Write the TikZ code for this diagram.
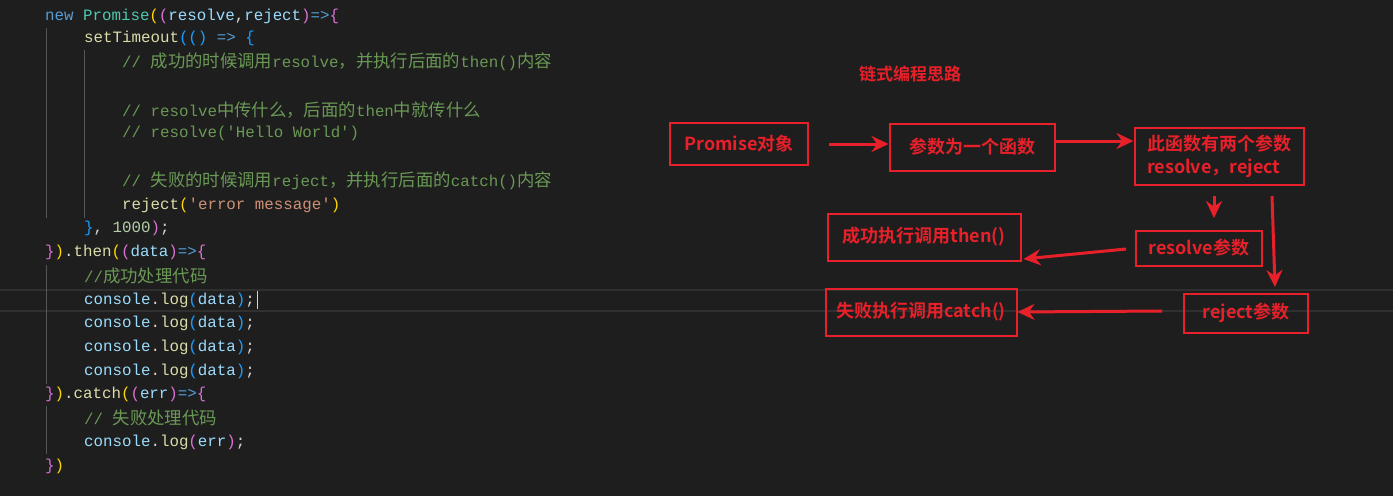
\documentclass[tikz,border=0pt]{standalone}
\usepackage{fontspec}
\setmonofont{Liberation Mono}
\newfontfamily\cjk[Scale=1.1]{Noto Sans CJK SC}
\newfontfamily\cjkb{Noto Sans CJK SC Bold}
\usetikzlibrary{arrows.meta}
\definecolor{bg}{HTML}{1E1E1E}
\definecolor{kw}{HTML}{569CD6}
\definecolor{cls}{HTML}{4EC9B0}
\definecolor{var}{HTML}{9CDCFE}
\definecolor{fn}{HTML}{DCDCAA}
\definecolor{cmt}{HTML}{6A9955}
\definecolor{str}{HTML}{CE9178}
\definecolor{num}{HTML}{B5CEA8}
\definecolor{txt}{HTML}{D4D4D4}
\definecolor{br1}{HTML}{FFD700}
\definecolor{br2}{HTML}{DA70D6}
\definecolor{br3}{HTML}{179FFF}
\definecolor{rd}{HTML}{E8202A}
\newcommand{\C}[1]{{\cjk #1}}
\begin{document}
\begin{tikzpicture}[x=1pt,y=-1pt,
  code/.style={anchor=west,inner sep=0pt,font=\ttfamily\fontsize{15.8}{16}\selectfont,text=txt},
  rbox/.style={draw=rd,line width=2pt,text=rd,font=\cjkb\fontsize{18}{23}\selectfont,align=left,inner sep=0pt},
  rarr/.style={draw=rd,line width=3pt,-{Stealth[length=17pt,width=16pt]}},
  guide/.style={draw=white!25!bg,line width=1pt}]
\fill[bg] (0,0) rectangle (1393,496);
\useasboundingbox (0,0) rectangle (1393,496);
\draw[draw=white!8!bg,line width=1.5pt] (0,290) -- (1393,290) (0,311) -- (1393,311);
\draw[guide] (46,28) -- (46,218) (46,265) -- (46,384) (46,406) -- (46,454) (84,50) -- (84,218);
% code
\node[code] (l1) at (45,16) {\color{kw}new~\color{cls}Promise\color{br1}(\color{br2}(\color{var}resolve\color{txt},\color{var}reject\color{br2})\color{kw}=>\color{br2}\{};
\node[code] (l2) at (84,38) {\color{fn}setTimeout\color{br3}(()~\color{kw}=>~\color{br3}\{};
\node[code] (l3) at (122,62) {\color{cmt}//~\C{成功的时候调用}resolve\C{，并执行后面的}then()\C{内容}};
\node[code] (l5) at (122,110) {\color{cmt}//~resolve\C{中传什么，后面的}then\C{中就传什么}};
\node[code] (l6) at (122,133) {\color{cmt}//~resolve('Hello~World')};
\node[code] (l8) at (122,181) {\color{cmt}//~\C{失败的时候调用}reject\C{，并执行后面的}catch()\C{内容}};
\node[code] (l9) at (122,205) {\color{fn}reject\color{br1}(\color{str}'error~message'\color{br1})};
\node[code] (l10) at (84,228) {\color{br3}\}\color{txt},~\color{num}1000\color{br2})\color{txt};};
\node[code] (l11) at (45,252) {\color{br2}\}\color{br1})\color{txt}.\color{fn}then\color{br1}(\color{br2}(\color{var}data\color{br2})\color{kw}=>\color{br2}\{};
\node[code] (l12) at (84,276) {\color{cmt}//\C{成功处理代码}};
\node[code] (l13) at (84,300) {\color{var}console\color{txt}.\color{fn}log\color{br3}(\color{var}data\color{br3})\color{txt};};
\draw[txt,line width=1pt] (l13.east)+(2,-9) -- +(2,9);
\node[code] (l14) at (84,323) {\color{var}console\color{txt}.\color{fn}log\color{br3}(\color{var}data\color{br3})\color{txt};};
\node[code] (l15) at (84,347) {\color{var}console\color{txt}.\color{fn}log\color{br3}(\color{var}data\color{br3})\color{txt};};
\node[code] (l16) at (84,371) {\color{var}console\color{txt}.\color{fn}log\color{br3}(\color{var}data\color{br3})\color{txt};};
\node[code] (l17) at (45,394) {\color{br2}\}\color{br1})\color{txt}.\color{fn}catch\color{br1}(\color{br2}(\color{var}err\color{br2})\color{kw}=>\color{br2}\{};
\node[code] (l18) at (84,418) {\color{cmt}//~\C{失败处理代码}};
\node[code] (l19) at (84,442) {\color{var}console\color{txt}.\color{fn}log\color{br2}(\color{var}err\color{br2})\color{txt};};
\node[code] (l20) at (45,466) {\color{br2}\}\color{br1})};
% diagram
\node[text=rd,font=\cjkb\fontsize{17}{18}\selectfont] (title) at (910,74) {链式编程思路};
\node[rbox,minimum width=138pt,minimum height=42pt] (p) at (739,144) {Promise对象};
\node[rbox,minimum width=165pt,minimum height=47pt] (f) at (972,147) {参数为一个函数};
\node[rbox,minimum width=169pt,minimum height=57pt] (two) at (1219,156) {此函数有两个参数\\resolve，reject};
\node[rbox,minimum width=193pt,minimum height=47pt] (then) at (924,237) {成功执行调用then()};
\node[rbox,minimum width=126pt,minimum height=35pt] (res) at (1199,248) {resolve参数};
\node[rbox,minimum width=191pt,minimum height=47pt] (catch) at (921,312) {失败执行调用catch()};
\node[rbox,minimum width=124pt,minimum height=39pt] (rej) at (1246,313) {reject参数};
\draw[rarr] ([xshift=20pt]p.east) -- (f.west|-p.east);
\draw[rarr] (f.east|-1055,141) -- (two.west|-1055,141);
\draw[rarr] (1214,196) -- (1214,218);
\draw[rarr] (1272,196) -- (1275,287);
\draw[rarr] ([xshift=-9pt,yshift=-1pt]res.west) -- ([xshift=2pt,yshift=-11pt]res.west-|then.east);
\draw[rarr] ([xshift=-21pt,yshift=2pt]rej.west) -- (catch.east);
\end{tikzpicture}
\end{document}
